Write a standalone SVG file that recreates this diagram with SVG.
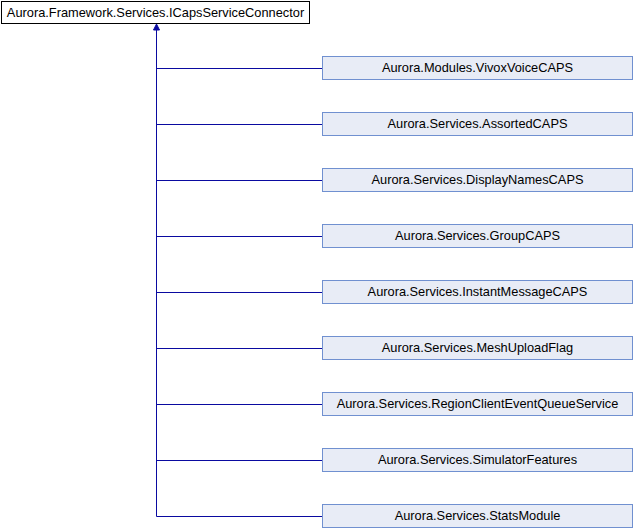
<svg xmlns="http://www.w3.org/2000/svg" width="634" height="528" viewBox="0 0 634 528">
<style>
.n rect{fill:#e8ecf6;stroke:#7090d0;stroke-width:1}
.r rect{fill:#ffffff;stroke:#000000;stroke-width:1}
text{font-family:"Liberation Sans",Arial,sans-serif;font-size:12.8px;fill:#000;text-anchor:middle}
.c path{fill:none;stroke:#0a0aa0;stroke-width:1}
</style>
<rect width="634" height="528" fill="#fff"/>
<g class="c" id="connectors">
<path d="M156.5,30V516.5"/>
<path d="M156.5,68.5H322.5M156.5,124.5H322.5M156.5,180.5H322.5M156.5,236.5H322.5M156.5,292.5H322.5M156.5,348.5H322.5M156.5,404.5H322.5M156.5,460.5H322.5M156.5,516.5H322.5"/>
<polygon points="156.5,24 153.5,30 159.5,30" fill="#0a0aa0" stroke="#0a0aa0" stroke-width="1"/>
</g>
<g class="r" id="ICapsServiceConnector"><rect x="1.5" y="1.5" width="308" height="22"/><text x="155.5" y="16.5">Aurora.Framework.Services.ICapsServiceConnector</text></g>
<g class="n" id="VivoxVoiceCAPS"><rect x="322.5" y="56.5" width="310" height="23"/><text x="477.5" y="71.5">Aurora.Modules.VivoxVoiceCAPS</text></g>
<g class="n" id="AssortedCAPS"><rect x="322.5" y="112.5" width="310" height="23"/><text x="477.5" y="127.5">Aurora.Services.AssortedCAPS</text></g>
<g class="n" id="DisplayNamesCAPS"><rect x="322.5" y="168.5" width="310" height="23"/><text x="477.5" y="183.5">Aurora.Services.DisplayNamesCAPS</text></g>
<g class="n" id="GroupCAPS"><rect x="322.5" y="224.5" width="310" height="23"/><text x="477.5" y="239.5">Aurora.Services.GroupCAPS</text></g>
<g class="n" id="InstantMessageCAPS"><rect x="322.5" y="280.5" width="310" height="23"/><text x="477.5" y="295.5">Aurora.Services.InstantMessageCAPS</text></g>
<g class="n" id="MeshUploadFlag"><rect x="322.5" y="336.5" width="310" height="23"/><text x="477.5" y="351.5">Aurora.Services.MeshUploadFlag</text></g>
<g class="n" id="RegionClientEventQueueService"><rect x="322.5" y="392.5" width="310" height="23"/><text x="477.5" y="407.5">Aurora.Services.RegionClientEventQueueService</text></g>
<g class="n" id="SimulatorFeatures"><rect x="322.5" y="448.5" width="310" height="23"/><text x="477.5" y="463.5">Aurora.Services.SimulatorFeatures</text></g>
<g class="n" id="StatsModule"><rect x="322.5" y="504.5" width="310" height="23"/><text x="477.5" y="519.5">Aurora.Services.StatsModule</text></g>
</svg>
